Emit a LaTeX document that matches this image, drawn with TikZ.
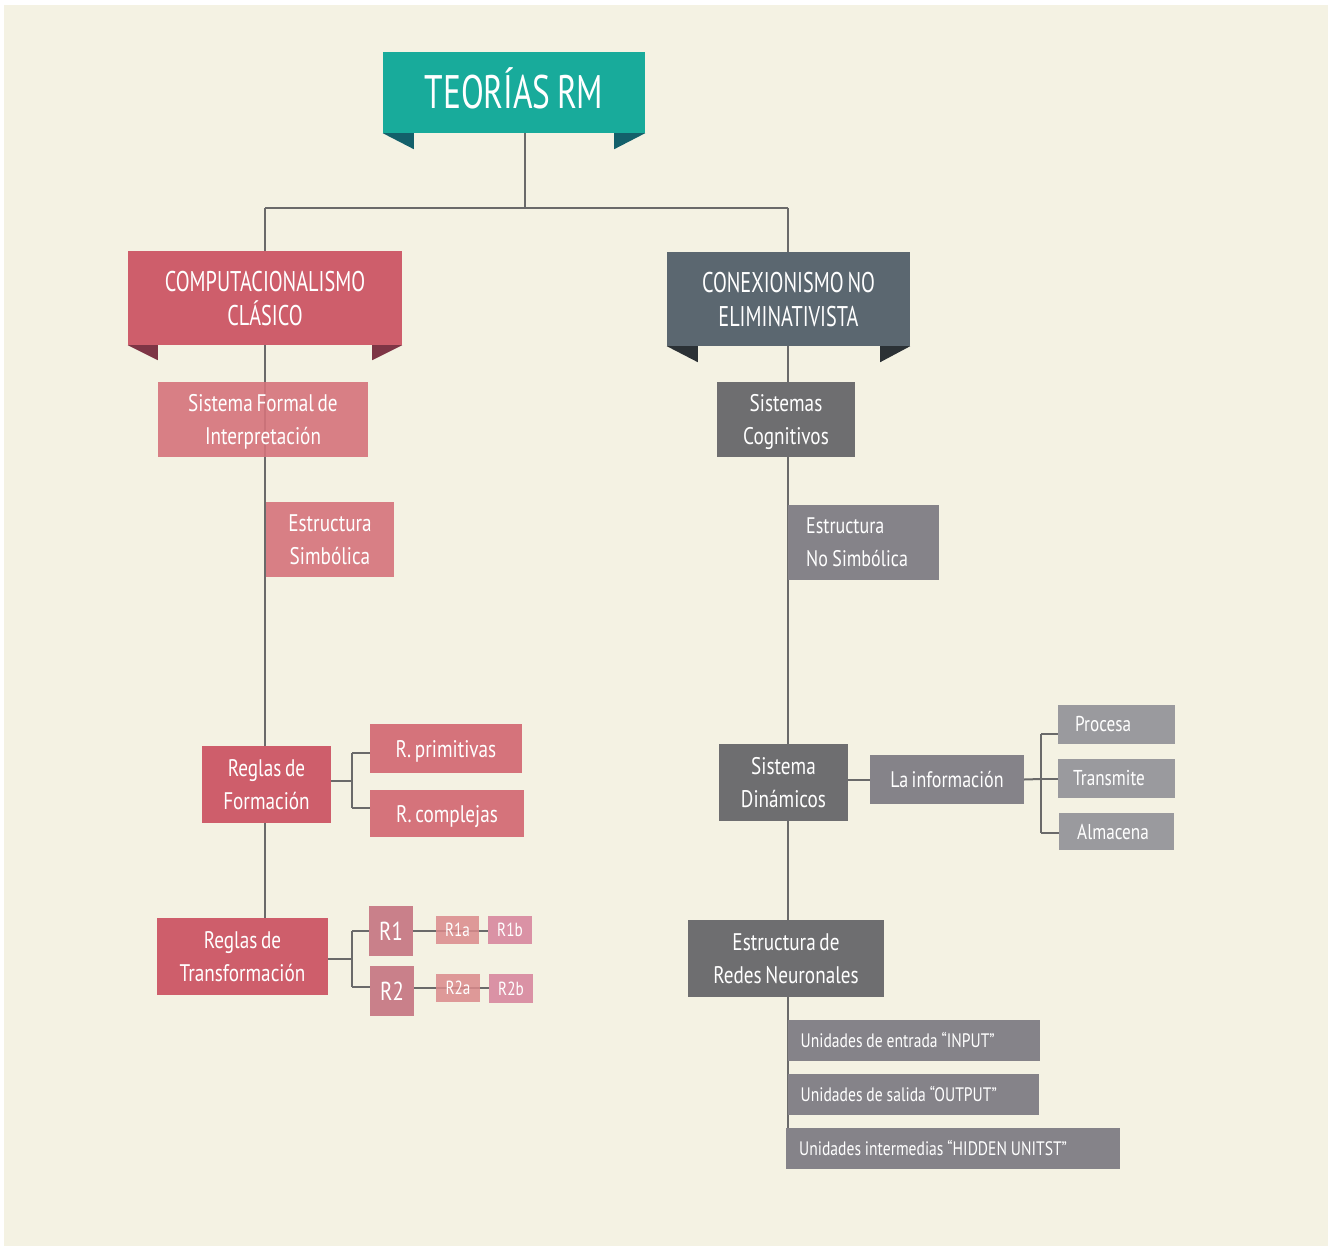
\documentclass[tikz,border=0pt]{standalone}
\usepackage{fontspec}
\setmainfont{PT Sans}[FakeStretch=0.8,WordSpace=0.72]
\newfontfamily\capsfont{PT Sans}[FakeStretch=0.71,WordSpace=0.72]
\usetikzlibrary{positioning,backgrounds}
\definecolor{bgcream}{HTML}{F4F2E3}
\definecolor{rmteal}{HTML}{18AB9B}
\definecolor{rmtealdark}{HTML}{13606A}
\definecolor{rmred}{HTML}{CE5E6B}
\definecolor{rmreddark}{HTML}{7E3545}
\definecolor{rmpink}{HTML}{D5737B}
\definecolor{rmrose}{HTML}{C9808A}
\definecolor{rmsalmon}{HTML}{DB8A8B}
\definecolor{rmorchid}{HTML}{DA92A5}
\definecolor{rmslate}{HTML}{5B6770}
\definecolor{rmslatedark}{HTML}{2B3135}
\definecolor{rmgray}{HTML}{6E6E70}
\definecolor{rmgraymid}{HTML}{858389}
\definecolor{rmgraylight}{HTML}{9A9A9E}
\definecolor{rmline}{HTML}{6A6A6A}

\tikzset{
  rmtext/.style={inner sep=0pt, text=white},
  rmbox/.style={rmtext, align=center, text depth=0pt, font=\fontsize{24}{32.5}\selectfont},
  banner/.style={rmbox, font=\capsfont\fontsize{28.5}{34}\selectfont},
  leftbox/.style={rmtext, align=left, anchor=west,
    execute at begin node={\spaceskip=0.2em\relax}},
  conn/.style={draw=rmline, line width=2pt}
}

\begin{document}
\begin{tikzpicture}[x=1pt,y=-1pt]
\useasboundingbox (0,0) rectangle (1335,1246);

% titulo
\node[banner, fill=rmteal, minimum width=262, minimum height=81, text height=33pt,
      font=\capsfont\fontsize{47}{50}\selectfont] (rm) at (514,92.5) {TEORÍAS RM};
\fill[rmtealdark] (rm.south west) -- ++(31,0) -- ++(0,16) -- cycle;
\fill[rmtealdark] (rm.south east) -- ++(-31,0) -- ++(0,16) -- cycle;

% ramas principales
\node[banner, fill=rmred, minimum width=274, minimum height=94] (comp) at (265,298)
  {COMPUTACIONALISMO\\CLÁSICO};
\fill[rmreddark] (comp.south west) -- ++(30,0) -- ++(0,15) -- cycle;
\fill[rmreddark] (comp.south east) -- ++(-30,0) -- ++(0,15) -- cycle;

\node[banner, fill=rmslate, minimum width=243, minimum height=94] (conex) at (788.5,299)
  {CONEXIONISMO NO\\ELIMINATIVISTA};
\fill[rmslatedark] (conex.south west) -- ++(31,0) -- ++(0,16) -- cycle;
\fill[rmslatedark] (conex.south east) -- ++(-30,0) -- ++(0,16) -- cycle;

% computacionalismo
\node[rmbox, fill=rmpink, fill opacity=0.9, text opacity=1, minimum width=210, minimum height=75]
  (sformal) at (263,419.5) {Sistema Formal de\\Interpretación};
\node[rmbox, fill=rmpink, fill opacity=0.9, text opacity=1, minimum width=128, minimum height=75]
  (esimb) at (330,539.5) {Estructura\\Simbólica};
\node[rmbox, fill=rmred, minimum width=129, minimum height=77]
  (rform) at (266.5,784.5) {Reglas de\\Formación};
\node[rmbox, fill=rmpink, minimum width=152, minimum height=49]
  (rprim) at (446,748.5) {R. primitivas};
\node[rmbox, fill=rmpink, minimum width=154, minimum height=47]
  (rcomp) at (447,813.5) {R. complejas};
\node[rmbox, fill=rmred, minimum width=171, minimum height=77]
  (rtrans) at (242.5,956.5) {Reglas de\\Transformación};
\node[rmbox, fill=rmrose, minimum width=44, minimum height=50,
      font=\fontsize{26}{28}\selectfont] (rone) at (391,931) {R1};
\node[rmbox, fill=rmrose, minimum width=44, minimum height=50,
      font=\fontsize{26}{28}\selectfont] (rtwo) at (392,991) {R2};
\node[rmbox, fill=rmsalmon, fill opacity=0.85, text opacity=1, minimum width=43, minimum height=28,
      font=\fontsize{19}{22}\selectfont] (ronea) at (457.5,930) {R1a};
\node[rmbox, fill=rmorchid, minimum width=44, minimum height=28,
      font=\fontsize{19}{22}\selectfont] (roneb) at (510,930) {R1b};
\node[rmbox, fill=rmsalmon, fill opacity=0.85, text opacity=1, minimum width=44, minimum height=28,
      font=\fontsize{19}{22}\selectfont] (rtwoa) at (458,988) {R2a};
\node[rmbox, fill=rmorchid, minimum width=44, minimum height=29,
      font=\fontsize{19}{22}\selectfont] (rtwob) at (511,988.5) {R2b};

% conexionismo
\node[rmbox, fill=rmgray, minimum width=138, minimum height=75]
  (scog) at (786,419.5) {Sistemas\\Cognitivos};
\node[leftbox, fill=rmgraymid, text width=115, inner xsep=18, minimum height=75,
      font=\fontsize{22.5}{32.5}\selectfont] (ensimb) at (788,542.5) {Estructura\\No Simbólica};
\node[rmbox, fill=rmgray, minimum width=129, minimum height=77]
  (sdin) at (783.5,782.5) {Sistema\\Dinámicos};
\node[rmbox, fill=rmgraymid, minimum width=154, minimum height=49,
      font=\fontsize{22.5}{26}\selectfont] (linfo) at (947,779.5) {La información};
\node[leftbox, fill=rmgraylight, text width=83, inner xsep=17, minimum height=39,
      font=\fontsize{21.5}{24}\selectfont] (procesa) at (1058,724.5) {Procesa};
\node[leftbox, fill=rmgraylight, text width=87, inner xsep=15, minimum height=39,
      font=\fontsize{21.5}{24}\selectfont] (transm) at (1058,778.5) {Transmite};
\node[leftbox, fill=rmgraylight, text width=79, inner xsep=18, minimum height=37,
      font=\fontsize{21.5}{24}\selectfont] (almac) at (1059,831.5) {Almacena};
\node[rmbox, fill=rmgray, minimum width=196, minimum height=77]
  (redes) at (786,958.5) {Estructura de\\Redes Neuronales};
\node[leftbox, fill=rmgraymid, text width=227, inner xsep=12.5, minimum height=41,
      font=\fontsize{19.5}{24}\selectfont] (uinput) at (788,1040.5) {Unidades de entrada “INPUT”};
\node[leftbox, fill=rmgraymid, text width=226, inner xsep=12.5, minimum height=41,
      font=\fontsize{19.5}{24}\selectfont] (uoutput) at (788,1094.5) {Unidades de salida “OUTPUT”};
\node[leftbox, fill=rmgraymid, text width=308, inner xsep=13, minimum height=41,
      font=\fontsize{19.5}{24}\selectfont] (uhidden) at (786,1148.5) {Unidades intermedias “HIDDEN UNITST”};

% puntos de las horquillas
\coordinate (split) at (525,208);
\coordinate (lfork) at (352,781);
\coordinate (tfork) at (352,959);
\coordinate (ifork) at (1041,779);

\begin{scope}[on background layer]
\fill[white] (0,0) rectangle (1335,1246);
\fill[bgcream] (4,5) rectangle (1328,1246);
% tronco
\draw[conn] (rm.south -| split) -- (split);
\draw[conn] (265,208) -- (788,208);
\draw[conn] (265,208) -- (rtrans.north -| 265,0);
\draw[conn] (788,208) -- (uhidden.north -| 788,0);
% reglas de formacion
\draw[conn] (rform.east |- lfork) -- (lfork);
\draw[conn] (352,753) -- (352,808);
\draw[conn] (352,753) -- (rprim.west |- 0,753);
\draw[conn] (352,808) -- (rcomp.west |- 0,808);
% reglas de transformacion
\draw[conn] (rtrans.east |- tfork) -- (tfork);
\draw[conn] (352,931) -- (352,987);
\draw[conn] (352,931) -- (rone.west |- 0,931);
\draw[conn] (352,987) -- (rtwo.west |- 0,987);
\draw[conn] (rone.east |- 0,931) -- (roneb.west |- 0,931);
\draw[conn] (rtwo.east |- 0,988) -- (rtwob.west |- 0,988);
% la informacion
\draw[conn] (sdin.east |- linfo) -- (linfo.west);
\draw[conn] (linfo.east) -- (ifork);
\draw[conn] (1041,734) -- (1041,833);
\draw[conn] (1041,734) -- (procesa.west |- 0,734);
\draw[conn] (ifork) -- (transm.west |- ifork);
\draw[conn] (1041,833) -- (almac.west |- 0,833);
\end{scope}
\end{tikzpicture}
\end{document}
